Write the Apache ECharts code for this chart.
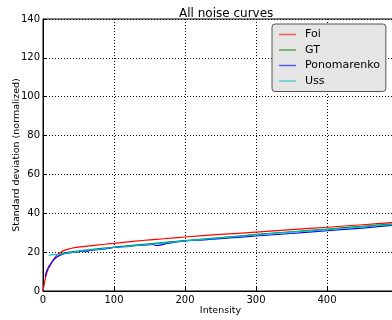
<!DOCTYPE html>
<html><head><meta charset="utf-8">
<script src="https://cdn.jsdelivr.net/npm/echarts@6/dist/echarts.min.js"></script>
<style>html,body{margin:0;padding:0;background:#fff}#c{width:392px;height:320px}</style>
</head><body><div id="c"></div>
<script>
const seriesNames = ['Foi', 'GT', 'Ponomarenko', 'Uss'];
const xTicks = [0, 100, 200, 300, 400, 500];
const yTicks = [0, 20, 40, 60, 80, 100, 120, 140];

const foiX = [0, 2, 4, 6, 8, 10, 12, 15, 18, 20, 25, 30, 35, 40, 50, 60, 70, 80, 90, 100, 120, 140, 160, 180, 200, 250, 300, 350, 400, 450, 500];
const foiY = [0, 4, 7.5, 10, 11.8, 13, 14.5, 16.3, 17.8, 18.7, 20, 20.9, 21.5, 22, 22.6, 23, 23.4, 23.8, 24.2, 24.5, 25.3, 26, 26.6, 27.2, 27.8, 29.1, 30.3, 31.6, 32.8, 34.1, 35.4];

const gtX = [25, 30, 40, 50, 60, 80, 100, 150, 200, 250, 300, 350, 400, 450, 500];
const gtY = [19.4, 19.7, 20.1, 20.6, 21, 21.8, 22.6, 24.3, 26, 27.5, 29.1, 30.5, 31.9, 33.3, 34.7];

const ponX = [3, 5, 8, 10, 15, 20, 25, 30, 40, 50, 55, 60, 65, 70, 80, 90, 100, 120, 140, 155, 160, 165, 175, 200, 225, 250, 275, 300, 350, 400, 450, 500];
const ponY = [7.4, 10, 12.5, 13.5, 16, 17.6, 18.6, 19.2, 19.8, 20.2, 20.6, 20.1, 20.7, 21, 21.4, 21.8, 22.4, 23, 23.6, 24, 23.4, 23.6, 24.5, 25.8, 26.3, 27, 27.6, 28.3, 29.6, 31, 32.4, 34.1];

const ussX = [8, 15, 20, 30, 40, 50, 60, 80, 100, 150, 200, 250, 300, 350, 400, 450, 500];
const ussY = [18.5, 18.7, 18.8, 19.3, 19.8, 20.5, 20.9, 21.6, 22.4, 24, 25.8, 27.3, 28.9, 30.3, 31.6, 33, 34.4];

const colors = ['#ff0000', '#008000', '#0000ff', '#00bfbf'];
const xs = [foiX, gtX, ponX, ussX];
const ys = [foiY, gtY, ponY, ussY];

const FONT = 'DejaVu Sans';
const chart = echarts.init(document.getElementById('c'), null, {renderer: 'canvas'});
chart.setOption({
  animation: false,
  backgroundColor: '#fff',
  title: {text: 'All noise curves', left: 174, top: 3,
    textStyle: {fontFamily: FONT, fontSize: 12, fontWeight: 'normal', color: '#000'}},
  grid: {left: 43, top: 19, bottom: 29, right: -6, containLabel: false, outerBoundsMode: 'none',
    show: true, borderColor: '#000', borderWidth: 1, backgroundColor: 'transparent'},
  legend: {
    data: seriesNames, orient: 'vertical', left: 272, top: 24,
    backgroundColor: '#e5e5e5', borderColor: '#555', borderWidth: 1, borderRadius: 3,
    padding: [5, 6, 5, 7], itemGap: 4.5, itemWidth: 17, itemHeight: 1.5, icon: 'rect',
    itemStyle: {opacity: 0.6},
    textStyle: {fontFamily: FONT, fontSize: 11, color: '#000', padding: [0, 0, 0, 4]}
  },
  xAxis: {
    type: 'value', min: xTicks[0], max: xTicks[xTicks.length - 1], interval: 100,
    name: 'Intensity', nameLocation: 'middle', nameGap: 15, nameMoveOverlap: false,
    nameTextStyle: {fontFamily: FONT, fontSize: 9.5, color: '#000', verticalAlign: 'top'},
    axisLine: {show: true, onZero: false, lineStyle: {color: '#000', width: 1}},
    axisTick: {show: true, inside: true, length: 4, lineStyle: {color: '#000'}},
    axisLabel: {fontFamily: FONT, fontSize: 10, color: '#000', margin: 4, showMaxLabel: false},
    splitLine: {show: true, lineStyle: {color: '#000', type: [1, 2], width: 1}}
  },
  yAxis: {
    type: 'value', min: yTicks[0], max: yTicks[yTicks.length - 1], interval: 20,
    name: 'Standard deviation (normalized)', nameLocation: 'middle', nameGap: 21, nameMoveOverlap: false,
    nameTextStyle: {fontFamily: FONT, fontSize: 9.5, color: '#000', verticalAlign: 'bottom'},
    axisLine: {show: true, onZero: false, lineStyle: {color: '#000', width: 1}},
    axisTick: {show: true, inside: true, length: 4, lineStyle: {color: '#000'}},
    axisLabel: {fontFamily: FONT, fontSize: 10, color: '#000', margin: 3},
    splitLine: {show: true, lineStyle: {color: '#000', type: [1, 2], width: 1}}
  },
  series: seriesNames.map((n, i) => ({
    name: n, type: 'line', showSymbol: false, symbol: 'none', smooth: 0.3,
    color: colors[i],
    lineStyle: {color: colors[i], width: 1.2},
    data: xs[i].map((x, j) => [x, ys[i][j]])
  }))
});
</script></body></html>
